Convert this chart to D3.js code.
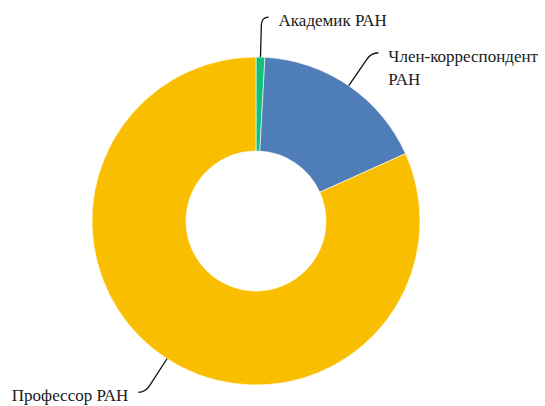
<!DOCTYPE html>
<html>
<head>
<meta charset="utf-8">
<script src="https://cdn.jsdelivr.net/npm/d3@7"></script>
<style>
body{margin:0;background:#fff}
</style>
</head>
<body>
<svg></svg>
<script>
var screen = {width:545,height:406}
//data
var categories = ["Академик РАН","Член-корреспондент РАН","Профессор РАН"]
var labelLines = [["Академик РАН"],["Член-корреспондент","РАН"],["Профессор РАН"]]
var values = [1,20,94]
var colors = ["#10C177","#4E7DB8","#F9BE00"]

var cx = 256, cy = 221
var outerR = 164, innerR = 70

var svg = d3.select("svg")
    .attr("width",screen.width)
    .attr("height",screen.height)

var g = svg.append("g")
    .attr("transform","translate("+cx+","+cy+")")

var pie = d3.pie().sort(null).value(function(d){return d})
var arcs = pie(values)

var arc = d3.arc().innerRadius(innerR).outerRadius(outerR)

g.selectAll("path.slice")
    .data(arcs)
    .enter()
    .append("path")
    .attr("class","slice")
    .attr("d",arc)
    .attr("fill",function(d,i){return colors[i]})
    .attr("stroke","#fff")
    .attr("stroke-width",0.6)

//point on a circle of radius r at the slice middle angle
var at = function(d,r)
{
    var a = (d.startAngle+d.endAngle)/2
    return [r*Math.sin(a), -r*Math.cos(a)]
}
var side = function(d)
{
    var a = (d.startAngle+d.endAngle)/2
    return a < Math.PI ? 1 : -1
}

//leader lines
g.selectAll("path.leader")
    .data(arcs)
    .enter()
    .append("path")
    .attr("class","leader")
    .attr("fill","none")
    .attr("stroke","#111")
    .attr("stroke-width",1.3)
    .attr("d",function(d)
    {
        var p0 = at(d,outerR)
        var p1 = at(d,196)
        var c = at(d,204)
        var end = [c[0]+side(d)*7, c[1]]
        return "M"+p0+"L"+p1+"Q"+c+" "+end
    })

//labels
var labels = g.selectAll("text.label")
    .data(arcs)
    .enter()
    .append("text")
    .attr("class","label")
    .attr("font-family","'Liberation Serif', 'DejaVu Serif', serif")
    .attr("font-size",17)
    .attr("fill","#1a1a1a")
    .attr("text-anchor",function(d){return side(d)>0 ? "start" : "end"})
    .attr("transform",function(d)
    {
        var c = at(d,204)
        return "translate("+(c[0]+side(d)*17)+","+(c[1]+9)+")"
    })

labels.selectAll("tspan")
    .data(function(d,i){return labelLines[i]})
    .enter()
    .append("tspan")
    .attr("x",0)
    .attr("dy",function(t,j){return j==0 ? 0 : 23})
    .text(function(t){return t})
</script>
</body>
</html>
